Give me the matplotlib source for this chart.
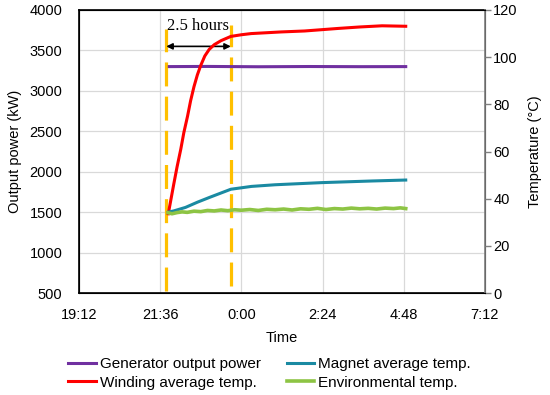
import matplotlib.pyplot as plt
from matplotlib.ticker import FixedLocator

plt.rcParams['font.family'] = ['Liberation Sans', 'DejaVu Sans']

# time in hours counted from midnight of the first day (24 = 0:00)
tick_hours = [19.2, 21.6, 24.0, 26.4, 28.8, 31.2]
tick_labels = ['19:12', '21:36', '0:00', '2:24', '4:48', '7:12']

power_t = [21.87, 23.0, 24.5, 26.0, 27.5, 28.86]
power_kw = [3300, 3302, 3298, 3301, 3299, 3300]

winding_t = [21.84, 21.91, 22.0, 22.1, 22.21, 22.3, 22.41, 22.50, 22.60, 22.70,
             22.80, 22.92, 23.05, 23.2, 23.4, 23.69, 24.0, 24.29, 25.18, 25.87,
             26.88, 27.5, 28.16, 28.86]
winding_temp = [33.6, 39.0, 46.0, 53.5, 61.0, 68.0, 75.0, 81.5, 87.5, 92.5,
                96.5, 100.5, 103.3, 105.3, 107.0, 108.8, 109.5, 110.0, 110.7, 111.1,
                112.2, 112.8, 113.3, 113.1]

magnet_t = [21.84, 22.0, 22.35, 22.7, 23.07, 23.69, 24.3, 25.0, 26.37, 27.86, 28.86]
magnet_temp = [34.3, 34.8, 36.3, 38.5, 40.6, 44.0, 45.2, 45.9, 46.8, 47.5, 47.9]

env_t = [21.84, 21.95, 22.1, 22.25, 22.4, 22.6, 22.8, 23.0, 23.2, 23.4, 23.6,
         23.8, 24.0, 24.25, 24.5, 24.75, 25.0, 25.25, 25.5, 25.75, 26.0, 26.25,
         26.5, 26.75, 27.0, 27.25, 27.5, 27.75, 28.0, 28.25, 28.5, 28.7, 28.86]
env_temp = [34.0, 33.6, 34.1, 34.4, 34.2, 34.7, 34.5, 35.0, 34.8, 35.2, 34.9,
            35.3, 35.1, 35.4, 35.0, 35.5, 35.3, 35.6, 35.2, 35.7, 35.5, 35.9,
            35.4, 35.8, 35.6, 36.0, 35.7, 35.9, 35.6, 36.0, 35.8, 36.1, 35.8]

# highlighted heating window
win_start, win_end = 21.78, 23.69

fig = plt.figure(figsize=(5.5, 3.95), dpi=100)
ax = fig.add_axes([0.1436, 0.2582, 0.738, 0.7165])
ax2 = ax.twinx()

ax.set_xlim(19.2, 31.2)
ax.set_ylim(500, 4000)
ax2.set_ylim(0, 120)

ax.xaxis.set_major_locator(FixedLocator(tick_hours))
ax.set_xticklabels(tick_labels)
ax.set_yticks(range(500, 4001, 500))
ax2.set_yticks(range(0, 121, 20))
ax.grid(True, color='#d9d9d9', lw=0.9)
ax.set_axisbelow(True)

lp, = ax.plot(power_t, power_kw, color='#7030a0', lw=2.2, label='Generator output power')
lw_, = ax2.plot(winding_t, winding_temp, color='#ff0000', lw=2.2, label='Winding average temp.')
lm, = ax2.plot(magnet_t, magnet_temp, color='#1a8aa2', lw=2.2, label='Magnet average temp.')
le, = ax2.plot(env_t, env_temp, color='#8dc444', lw=2.6, label='Environmental temp.')

ax.plot([win_start, win_start], [525, 3765], color='#ffc000', lw=2.3,
        linestyle=(0, (7.5, 3.2)), zorder=1)
ax.plot([win_end, win_end], [587, 3814], color='#ffc000', lw=2.3,
        linestyle=(0, (7.5, 3.2)), zorder=1)
ax.annotate('', xy=(win_start, 3550), xytext=(win_end, 3550),
            arrowprops=dict(arrowstyle='<|-|>', color='black', lw=1.2,
                            mutation_scale=9, shrinkA=0, shrinkB=0))
ax.text(22.71, 3800, '2.5 hours', family='Liberation Serif', fontsize=12,
        ha='center', va='center')

for s in ['left', 'bottom', 'top']:
    ax.spines[s].set_color('black')
    ax.spines[s].set_linewidth(1.2)
ax2.spines['right'].set_color('#808080')
ax2.spines['right'].set_linewidth(1.2)

ax.tick_params(axis='both', length=0, labelsize=10.5)
ax.tick_params(axis='y', pad=12)
ax.tick_params(axis='x', pad=11)
ax2.tick_params(axis='y', length=4, color='#808080', width=1, pad=2, labelsize=10.5)

ax.set_ylabel('Output power (kW)', fontsize=10.5, labelpad=5)
ax2.set_ylabel('Temperature (°C)', fontsize=10.5, labelpad=7)
ax.set_xlabel('Time', fontsize=10.5, labelpad=6)

fig.legend(handles=[lp, lw_, lm, le], ncol=2, loc='center',
           bbox_to_anchor=(0.49, 0.055), frameon=False, fontsize=11,
           handlelength=1.8, handletextpad=0.25, columnspacing=1.7,
           labelspacing=0.3, borderaxespad=0.2)

fig.savefig('out.png', dpi=100)
